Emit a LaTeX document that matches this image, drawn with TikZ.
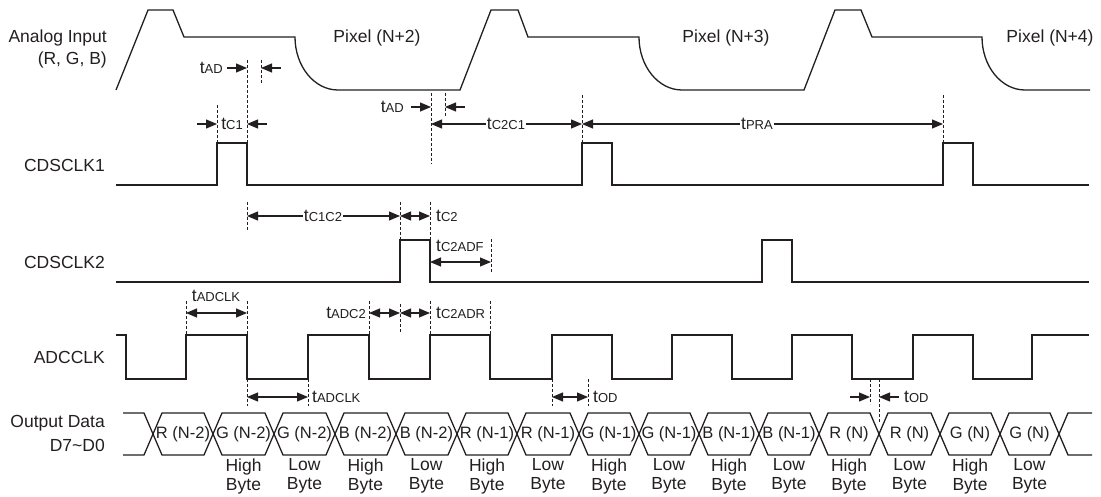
\documentclass[tikz,border=0pt]{standalone}
\usepackage{fontspec}
\setmainfont{Liberation Sans}
\usetikzlibrary{arrows.meta}
\definecolor{cInk}{RGB}{35,31,32}
\tikzset{
  wave/.style={draw=cInk, line width=1.3pt},
  guide/.style={draw=cInk, line width=0.7pt, dash pattern=on 3pt off 2pt},
  dim/.style={{Triangle[length=11pt,width=9pt]}-{Triangle[length=11pt,width=9pt]},
              draw=cInk, line width=1.1pt},
  darr/.style={-{Triangle[length=11pt,width=9pt]}, draw=cInk, line width=1.1pt},
  sig/.style={font=\fontsize{17.5}{21}\selectfont, text=cInk, inner sep=0pt, align=right},
  tlbl/.style={font=\fontsize{17.5}{20}\selectfont, text=cInk, inner sep=1pt},
  cell/.style={font=\fontsize{16.5}{19}\selectfont, text=cInk, inner sep=0pt},
  byte/.style={font=\fontsize{17.5}{19}\selectfont, text=cInk, align=center, inner sep=0pt},
}
\newcommand{\tm}[1]{t{\fontsize{13}{14}\selectfont #1}}

\begin{document}
\begin{tikzpicture}[x=1pt,y=-1pt]
  \useasboundingbox (0,0) rectangle (1101,497);

  % signal names
  \node[sig, anchor=east] (ain)  at (107,38)  {Analog Input};
  \node[sig, anchor=east] (argb) at (107,60)  {(R, G, B)};
  \node[sig, anchor=east] (c1)   at (105,165) {CDSCLK1};
  \node[sig, anchor=east] (c2)   at (105,262) {CDSCLK2};
  \node[sig, anchor=east] (adc)  at (105,357) {ADCCLK};
  \node[sig, anchor=east] (od)   at (105,423) {Output Data};
  \node[sig, anchor=east] (d70)  at (105,445) {D7\textasciitilde D0};

  \node[sig] (px2) at (377,38)  {Pixel (N+2)};
  \node[sig] (px3) at (726,38)  {Pixel (N+3)};
  \node[sig] (px4) at (1050,38) {Pixel (N+4)};

  % waveforms
  \draw[wave] (116,90) -- (148,10) -- (173,10) -- (184,37) -- (295,37)
    .. controls (295,66) and (314,90) .. (338,90) -- (460,90) -- (491,10) -- (518,10)
    -- (528,37) -- (639,37) .. controls (639,66) and (658,90) .. (682,90) -- (804,90)
    -- (835,10) -- (861,10) -- (872,37) -- (982,37)
    .. controls (982,66) and (1001,90) .. (1025,90) -- (1090,90);
  \draw[wave] (116,185) -- (217,185) |- (247,143) -- (247,185) -- (582,185) |- (612,143)
    -- (612,185) -- (943,185) |- (973,143) -- (973,185) -- (1089,185);
  \draw[wave] (116,282) -- (400,282) |- (430,240) -- (430,282) -- (762,282) |- (792,240)
    -- (792,282) -- (1089,282);
  \draw[wave] (116,335) -- (126,335) -- (126,379) -| (186,335) -| (247,379) -| (308,335)
    -| (369,379) -| (430,335) -| (490,379) -| (552,335) -| (612,379) -| (672,335)
    -| (732,379) -| (792,335) -| (852,379) -| (913,335) -| (973,379) -| (1032,335)
    -- (1089,335);

  % output data bus
  \draw[wave] (123,413) -- (144,413) -- (153,434) -- (144,455) -- (123,455);
  \draw[wave] (1092,413) -- (1068,413) -- (1059,434) -- (1068,455) -- (1092,455);
  \foreach \a/\b/\txt [count=\i] in {153/213/R (N-2), 213/274/G (N-2), 274/335/G (N-2),
      335/396/B (N-2), 396/457/B (N-2), 457/517/R (N-1), 517/579/R (N-1), 579/639/G (N-1),
      639/699/G (N-1), 699/759/B (N-1), 759/819/B (N-1), 819/879/R (N), 879/940/R (N),
      940/1000/G (N), 1000/1059/G (N)} {
    \draw[wave] (\a,434) -- (\a+9,413) -- (\b-9,413) -- (\b,434) -- (\b-9,455) -- (\a+9,455) -- cycle;
    \node[cell] (d\i) at ({(\a+\b)/2},434) {\txt};
  }
  \foreach \bt [count=\i from 2] in {High, Low, High, Low, High, Low, High, Low,
      High, Low, High, Low, High, Low}
    \node[byte] (by\i) at (d\i |- 0,476) {\bt\\Byte};

  % tAD, tC1
  \draw[guide] (247,60) -- (247,143);
  \draw[guide] (261,60) -- (261,83);
  \draw[guide] (217,105) -- (217,143);
  \node[tlbl, anchor=east] (tad1) at (224,68) {\tm{AD}};
  \draw[darr] (227,68) -- (247,68);
  \draw[darr] (281,68) -- (261,68);
  \draw[darr] (197,124) -- (217,124);
  \draw[darr] (267,124) -- (247,124);
  \node[tlbl] (tc1) at (232,124) {\tm{C1}};

  % tAD, tC2C1, tPRA
  \draw[guide] (431,93) -- (431,164);
  \draw[guide] (445,93) -- (445,117);
  \node[tlbl, anchor=east] (tad2) at (405,107) {\tm{AD}};
  \draw[darr] (411,107) -- (431,107);
  \draw[darr] (465,107) -- (445,107);
  \draw[guide] (582,95) -- (582,143);
  \draw[guide] (943,95) -- (943,143);
  \draw[dim] (431,124) -- (582,124);
  \node[tlbl, fill=white] (tc2c1) at (506,124) {\tm{C2C1}};
  \draw[dim] (582,124) -- (943,124);
  \node[tlbl, fill=white] (tpra) at (757,124) {\tm{PRA}};

  % tC1C2, tC2, tC2ADF
  \draw[guide] (247,202) -- (247,230);
  \draw[guide] (400,202) -- (400,240);
  \draw[guide] (430,202) -- (430,240);
  \draw[dim] (247,216) -- (400,216);
  \node[tlbl, fill=white] (tc1c2) at (323,216) {\tm{C1C2}};
  \draw[dim] (400,216) -- (430,216);
  \node[tlbl, anchor=west] (tc2) at (435,216) {\tm{C2}};
  \draw[guide] (491,239) -- (491,272);
  \draw[dim] (430,262) -- (491,262);
  \node[tlbl, anchor=west] (tc2adf) at (435,246) {\tm{C2ADF}};

  % ADCCLK timing
  \draw[guide] (186,301) -- (186,335);
  \draw[guide] (247,301) -- (247,335);
  \draw[guide] (369,301) -- (369,335);
  \draw[guide] (400,304) -- (400,333);
  \draw[guide] (430,301) -- (430,335);
  \draw[guide] (490,301) -- (490,335);
  \draw[dim] (186,313) -- (247,313);
  \node[tlbl] (tadclk1) at (216,296) {\tm{ADCLK}};
  \draw[dim] (369,313) -- (400,313);
  \draw[dim] (400,313) -- (430,313);
  \node[tlbl, anchor=east] (tadc2) at (367,313) {\tm{ADC2}};
  \node[tlbl, anchor=west] (tc2adr) at (435,313) {\tm{C2ADR}};

  % output delay
  \draw[guide] (247,379) -- (247,406);
  \draw[guide] (308,379) -- (308,406);
  \draw[dim] (247,397) -- (308,397);
  \node[tlbl, anchor=west] (tadclk2) at (311,397) {\tm{ADCLK}};
  \draw[guide] (552,379) -- (552,406);
  \draw[guide] (588,379) -- (588,406);
  \draw[dim] (552,397) -- (588,397);
  \node[tlbl, anchor=west] (tod1) at (592,397) {\tm{OD}};
  \draw[guide] (870,379) -- (870,404);
  \draw[guide] (879,379) -- (879,422);
  \draw[darr] (850,397) -- (870,397);
  \draw[darr] (899,397) -- (879,397);
  \node[tlbl, anchor=west] (tod2) at (903,397) {\tm{OD}};
\end{tikzpicture}
\end{document}
